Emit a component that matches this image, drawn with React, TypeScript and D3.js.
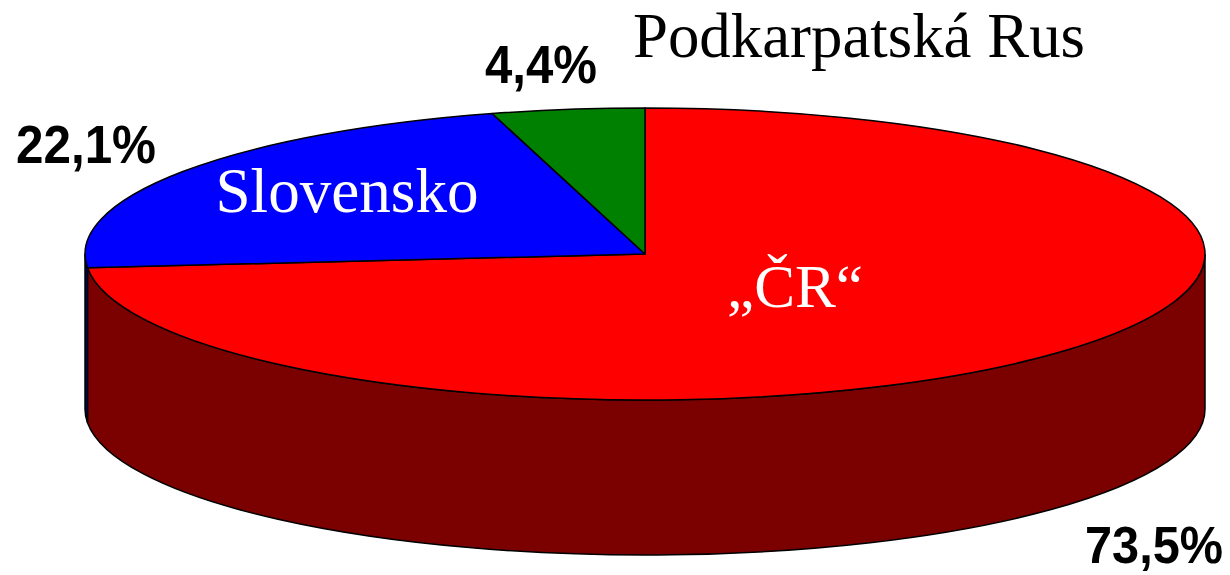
import React from "react";
import * as d3 from "d3";

const categories = ["„ČR“", "Slovensko", "Podkarpatská Rus"];
const values = [73.5, 22.1, 4.4];
const percentLabels = ["73,5%", "22,1%", "4,4%"];
const topColors = ["#ff0000", "#0000ff", "#008000"];
const sideColors = ["#7b0000", "#00007b", "#004000"];

const W = 1230;
const H = 575;
const cx = 645;
const cy = 254;
const rx = 560;
const ry = 146;
const depth = 155;

const px = (a: number) => cx + rx * Math.sin(a);
const py = (a: number, dz = 0) => cy - ry * Math.cos(a) + dz;

// label placement
const catPos = [
  { x: 795, y: 307, fill: "#fff", size: 61, len: 136 },
  { x: 347, y: 212, fill: "#fff", size: 63, len: 263 },
  { x: 859, y: 57, fill: "#000", size: 63, len: 452 },
];
const pctPos = [
  { x: 1154, y: 563, len: 138, size: 51 },
  { x: 86, y: 163, len: 140, size: 53 },
  { x: 541, y: 83, len: 112, size: 53 },
];

export default function App() {
  const pie = d3.pie<number>().sort(null).startAngle(0).endAngle(2 * Math.PI);
  const arcs = pie(values);

  const topPath = (a0: number, a1: number) => {
    const large = a1 - a0 > Math.PI ? 1 : 0;
    return `M${cx},${cy}L${px(a0)},${py(a0)}A${rx},${ry} 0 ${large} 1 ${px(a1)},${py(a1)}Z`;
  };

  const sidePath = (a0: number, a1: number) => {
    const s = Math.max(a0, Math.PI / 2);
    const e = Math.min(a1, (3 * Math.PI) / 2);
    if (e <= s) return null;
    const large = e - s > Math.PI ? 1 : 0;
    return (
      `M${px(s)},${py(s)}A${rx},${ry} 0 ${large} 1 ${px(e)},${py(e)}` +
      `L${px(e)},${py(e, depth)}A${rx},${ry} 0 ${large} 0 ${px(s)},${py(s, depth)}Z`
    );
  };

  return (
    <svg
      width={W}
      height={H}
      style={{ position: "absolute", left: 0, top: 0, background: "#fff" }}
    >
      {arcs.map((a, i) => {
        const d = sidePath(a.startAngle, a.endAngle);
        return d ? (
          <path key={"s" + i} d={d} fill={sideColors[i]} stroke="#000" strokeWidth={1.5} />
        ) : null;
      })}
      {arcs.map((a, i) => (
        <path
          key={"t" + i}
          d={topPath(a.startAngle, a.endAngle)}
          fill={topColors[i]}
          stroke="#000"
          strokeWidth={1.5}
          strokeLinejoin="round"
        />
      ))}
      {categories.map((c, i) => (
        <text
          key={"c" + i}
          x={catPos[i].x}
          y={catPos[i].y}
          textAnchor="middle"
          fontFamily="'Liberation Serif', 'Times New Roman', serif"
          fontSize={catPos[i].size}
          textLength={catPos[i].len}
          lengthAdjust="spacingAndGlyphs"
          fill={catPos[i].fill}
        >
          {c}
        </text>
      ))}
      {percentLabels.map((p, i) => (
        <text
          key={"p" + i}
          x={pctPos[i].x}
          y={pctPos[i].y}
          textAnchor="middle"
          fontFamily="'Liberation Sans', Arial, sans-serif"
          fontWeight="bold"
          fontSize={pctPos[i].size}
          textLength={pctPos[i].len}
          lengthAdjust="spacingAndGlyphs"
          fill="#000"
        >
          {p}
        </text>
      ))}
    </svg>
  );
}
